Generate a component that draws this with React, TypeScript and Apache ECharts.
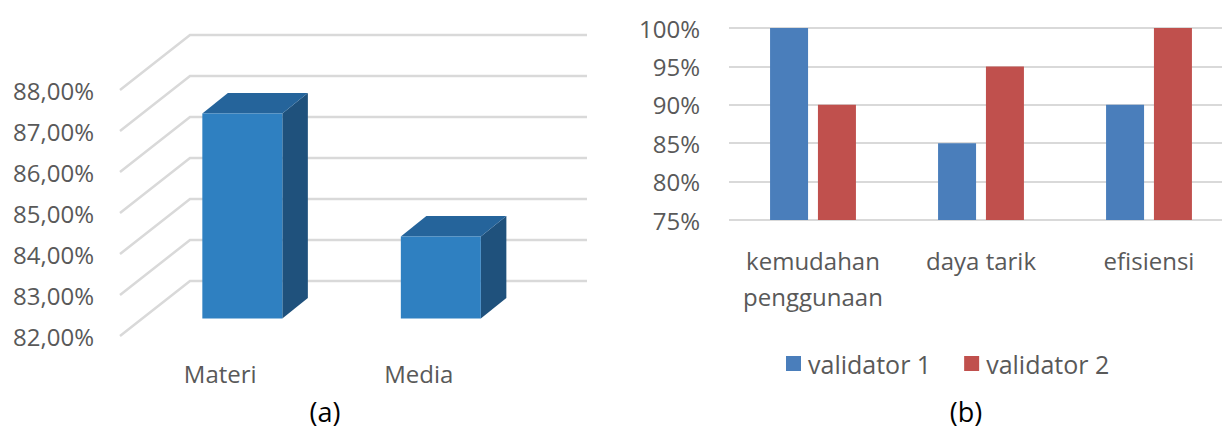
import React, { useEffect, useRef } from "react";
import * as echarts from "echarts";

// ---- Chart (a) data ----
const catsA = ["Materi", "Media"];
const valuesA = [87, 84];
const ticksA = [82, 83, 84, 85, 86, 87, 88];

// ---- Chart (b) data ----
const catsB = ["kemudahan\npenggunaan", "daya tarik", "efisiensi"];
const validator1 = [100, 85, 90];
const validator2 = [90, 95, 100];
const seriesNamesB = ["validator 1", "validator 2"];

const FONT = '"Open Sans", "Noto Sans", sans-serif';
const TXT = "#595959";
const GRIDC = "#d9d9d9";

// perspective depth of the 3D floor (pixels)
const DX = 69;
const DY = -55;
const D1 = 0.32;
const D2 = 0.69;

export default function App() {
  const ref = useRef<HTMLDivElement>(null);
  useEffect(() => {
    if (!ref.current) return;
    const chart = echarts.init(ref.current, null, { renderer: "svg" });
    const option: any = {
      animation: false,
      backgroundColor: "#ffffff",
      textStyle: { fontFamily: FONT },
      grid: [
        { left: 121, top: 90, width: 397, height: 246, outerBoundsMode: "none", containLabel: false },
        { left: 729, top: 28, width: 504, height: 192, outerBoundsMode: "none", containLabel: false },
      ],
      xAxis: [
        {
          type: "category",
          gridIndex: 0,
          data: catsA,
          axisLine: { show: false },
          axisTick: { show: false },
          splitLine: { show: false },
          axisLabel: { color: TXT, fontSize: 24, fontFamily: FONT, margin: 19, lineHeight: 36 },
        },
        {
          type: "category",
          gridIndex: 1,
          data: catsB,
          axisLine: { show: false },
          axisTick: { show: false },
          splitLine: { show: false },
          axisLabel: { color: TXT, fontSize: 24, fontFamily: FONT, margin: 22, lineHeight: 36, interval: 0 },
        },
      ],
      yAxis: [
        {
          type: "value",
          gridIndex: 0,
          min: 82,
          max: 88,
          interval: 1,
          axisLine: { show: false },
          axisTick: { show: false },
          splitLine: { show: false },
          axisLabel: {
            color: TXT,
            fontSize: 24,
            fontFamily: FONT,
            margin: 27,
            formatter: (v: number) => v.toFixed(2).replace(".", ",") + "%",
          },
        },
        {
          type: "value",
          gridIndex: 1,
          min: 75,
          max: 100,
          interval: 5,
          axisLine: { show: false },
          axisTick: { show: false },
          splitLine: { show: true, lineStyle: { color: GRIDC, width: 2 } },
          axisLabel: {
            color: TXT,
            fontSize: 24,
            fontFamily: FONT,
            margin: 29,
            formatter: (v: number) => v + "%",
          },
        },
      ],
      legend: {
        data: seriesNamesB,
        left: 781,
        top: 346,
        icon: "rect",
        itemWidth: 15,
        itemHeight: 15,
        itemGap: 33,
        textStyle: { color: TXT, fontSize: 25, fontFamily: FONT, padding: [0, 0, 0, 2] },
      },
      graphic: [
        {
          type: "text",
          x: 325,
          y: 411,
          style: { text: "(a)", font: '27px "Open Sans"', fill: "#000", align: "center", verticalAlign: "middle" },
        },
        {
          type: "text",
          x: 966,
          y: 411,
          style: { text: "(b)", font: '27px "Open Sans"', fill: "#000", align: "center", verticalAlign: "middle" },
        },
      ],
      series: [
        {
          type: "custom",
          name: "grid3d",
          xAxisIndex: 0,
          yAxisIndex: 0,
          z: 1,
          silent: true,
          data: ticksA.map((v) => [0, v]),
          renderItem: (params: any, api: any) => {
            const cs = params.coordSys;
            const y = api.coord([0, api.value(1)])[1];
            return {
              type: "polyline",
              shape: {
                points: [
                  [cs.x - 1, y],
                  [cs.x + DX, y + DY],
                  [cs.x + cs.width + DX, y + DY],
                ],
              },
              style: { stroke: GRIDC, lineWidth: 2.5, fill: "none" },
            };
          },
        },
        {
          type: "custom",
          name: "bars3d",
          xAxisIndex: 0,
          yAxisIndex: 0,
          z: 3,
          data: valuesA.map((v, i) => [i, v]),
          renderItem: (params: any, api: any) => {
            const i = api.value(0);
            const base = api.coord([i, 82]);
            const top = api.coord([i, api.value(1)]);
            const w = api.size([1, 0])[0] * 0.403;
            const xl = base[0] - w / 2;
            const xr = base[0] + w / 2;
            const ox1 = DX * D1, oy1 = DY * D1;
            const ox2 = DX * D2, oy2 = DY * D2;
            return {
              type: "group",
              children: [
                {
                  type: "polygon",
                  shape: {
                    points: [
                      [xr + ox1, top[1] + oy1],
                      [xr + ox2, top[1] + oy2],
                      [xr + ox2, base[1] + oy2],
                      [xr + ox1, base[1] + oy1],
                    ],
                  },
                  style: { fill: "#1f517c" },
                },
                {
                  type: "polygon",
                  shape: {
                    points: [
                      [xl + ox1, top[1] + oy1],
                      [xr + ox1, top[1] + oy1],
                      [xr + ox2, top[1] + oy2],
                      [xl + ox2, top[1] + oy2],
                    ],
                  },
                  style: { fill: "#25649b" },
                },
                {
                  type: "rect",
                  shape: {
                    x: xl + ox1,
                    y: top[1] + oy1,
                    width: w,
                    height: base[1] - top[1],
                  },
                  style: { fill: "#2f80c1" },
                },
              ],
            };
          },
        },
        {
          type: "bar",
          name: seriesNamesB[0],
          xAxisIndex: 1,
          yAxisIndex: 1,
          data: validator1,
          barWidth: 38,
          barGap: "26%",
          itemStyle: { color: "#4a7ebb" },
        },
        {
          type: "bar",
          name: seriesNamesB[1],
          xAxisIndex: 1,
          yAxisIndex: 1,
          data: validator2,
          barWidth: 38,
          barGap: "26%",
          itemStyle: { color: "#c0504d" },
        },
      ],
    };
    chart.setOption(option);
    return () => chart.dispose();
  }, []);
  return (
    <div
      ref={ref}
      style={{ position: "absolute", left: 0, top: 0, width: 1222, height: 430 }}
    />
  );
}
